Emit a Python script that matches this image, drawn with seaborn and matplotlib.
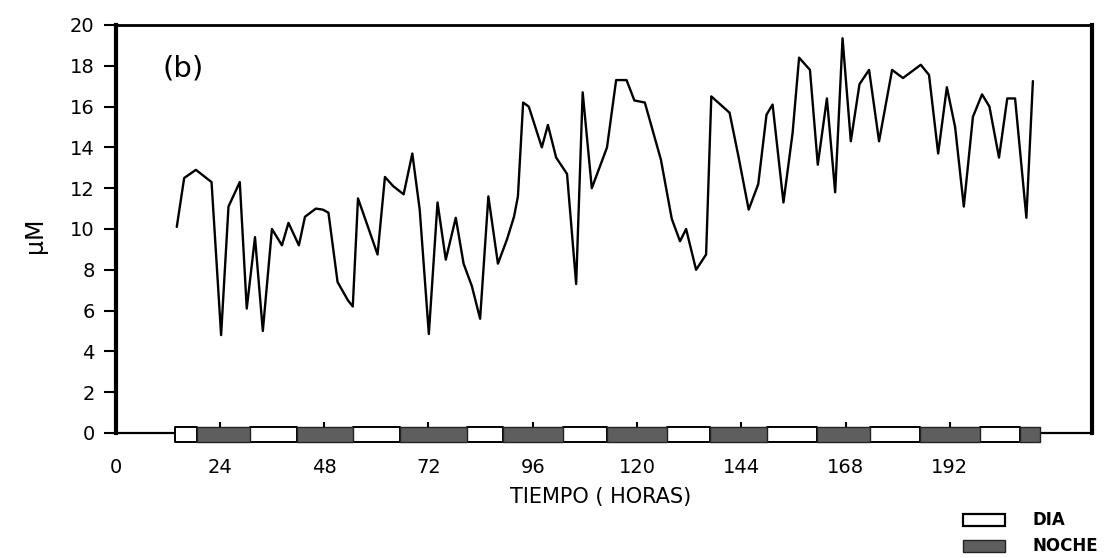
import numpy as np
import pandas as pd
import matplotlib
matplotlib.use("Agg")
import matplotlib.pyplot as plt
import seaborn as sns
from matplotlib.patches import Rectangle

# ---- data ----
hours = [14.1, 15.8, 18.5, 22.1, 24.3, 26.0, 28.6, 30.2, 32.1, 33.9, 36.0, 38.3,
         39.8, 42.2, 43.6, 46.1, 47.7, 49.0, 51.1, 53.5, 54.6, 55.8, 58.1, 60.3,
         62.0, 63.9, 66.3, 68.3, 70.0, 72.1, 74.1, 76.0, 78.3, 80.1, 82.0, 83.9,
         85.8, 88.0, 90.1, 91.7, 92.6, 93.8, 95.1, 98.1, 99.5, 101.4, 103.9, 106.0,
         107.5, 109.6, 113.1, 115.2, 117.6, 119.4, 121.8, 125.5, 128.0, 129.9, 131.3,
         133.6, 135.9, 137.1, 141.3, 143.4, 145.7, 147.9, 149.8, 151.2, 153.7, 155.8,
         157.3, 159.8, 161.6, 163.7, 165.6, 167.3, 169.2, 171.2, 173.4, 175.7, 178.7,
         181.2, 185.3, 187.2, 189.3, 191.3, 193.2, 195.2, 197.3, 199.4, 201.1, 203.3,
         205.2, 207.0, 209.6, 211.1]
conc = [10.1, 12.5, 12.9, 12.3, 4.8, 11.1, 12.3, 6.1, 9.6, 5.0, 10.0, 9.2,
        10.3, 9.2, 10.6, 11.0, 10.95, 10.8, 7.4, 6.5, 6.2, 11.5, 10.1, 8.75,
        12.55, 12.1, 11.7, 13.7, 10.95, 4.85, 11.3, 8.5, 10.55, 8.3, 7.2, 5.6,
        11.6, 8.3, 9.5, 10.6, 11.6, 16.2, 16.0, 14.0, 15.1, 13.5, 12.7, 7.3,
        16.7, 12.0, 14.0, 17.3, 17.3, 16.3, 16.2, 13.4, 10.5, 9.4, 10.0,
        8.0, 8.75, 16.5, 15.7, 13.5, 10.95, 12.2, 15.6, 16.1, 11.3, 14.7,
        18.4, 17.8, 13.15, 16.4, 11.8, 19.35, 14.3, 17.1, 17.8, 14.3, 17.8,
        17.4, 18.05, 17.55, 13.7, 16.95, 15.0, 11.1, 15.5, 16.6, 16.0, 13.5,
        16.4, 16.4, 10.55, 17.25]

x_ticks = [0, 24, 48, 72, 96, 120, 144, 168, 192]
y_ticks = [0, 2, 4, 6, 8, 10, 12, 14, 16, 18, 20]

day_start = [13.7, 31.0, 54.6, 80.9, 103.0, 126.9, 149.9, 173.6, 198.9]
day_end = [18.8, 41.8, 65.5, 89.2, 113.1, 136.8, 161.4, 185.1, 208.1]
night_start = [18.8, 41.8, 65.5, 89.2, 113.1, 136.8, 161.4, 185.1, 208.1]
night_end = [31.0, 54.6, 80.9, 103.0, 126.9, 149.9, 173.6, 198.9, 212.7]

x_label = "TIEMPO ( HORAS)"
y_label = "μM"
panel_label = "(b)"
legend_labels = ["DIA", "NOCHE"]

# ---- figure ----
sns.set_style("ticks")
plt.rcParams["font.family"] = ["DejaVu Sans"]
plt.rcParams["text.color"] = "black"
plt.rcParams["axes.labelcolor"] = "black"
plt.rcParams["xtick.color"] = "black"
plt.rcParams["ytick.color"] = "black"

W, H = 1106, 558
fig = plt.figure(figsize=(W / 100, H / 100), dpi=100)
ax = fig.add_axes([115.5 / W, 1 - 433 / H, 976.5 / W, 408 / H])

df = pd.DataFrame({"hours": hours, "conc": conc})
sns.lineplot(data=df, x="hours", y="conc", ax=ax, color="black", linewidth=1.7)

NIGHT_COLOR = "#5e5e5e"
ax.broken_barh([(s, e - s) for s, e in zip(day_start, day_end)], (-0.45, 0.72),
               facecolors="white", edgecolors="black", linewidth=1.4,
               clip_on=False, zorder=4)
ax.broken_barh([(s, e - s) for s, e in zip(night_start, night_end)], (-0.45, 0.72),
               facecolors=NIGHT_COLOR, edgecolors="#222222", linewidth=1.0,
               clip_on=False, zorder=4)

ax.set_xlim(0, 224.7)
ax.set_ylim(0, 20)
ax.set_xticks(x_ticks)
ax.set_yticks(y_ticks)
ax.tick_params(axis="x", direction="in", length=8, width=1.5, pad=18,
               labelsize=14, colors="black")
ax.tick_params(axis="y", direction="out", length=9, width=1.5, pad=6,
               labelsize=14, colors="black")

for side, lw in [("left", 3.0), ("right", 3.0), ("top", 2.0), ("bottom", 1.6)]:
    ax.spines[side].set_visible(True)
    ax.spines[side].set_linewidth(lw)
    ax.spines[side].set_color("black")

ax.set_xlabel(x_label, fontsize=15, color="black")
ax.set_ylabel(y_label, fontsize=17, rotation=90, color="black")
ax.yaxis.set_label_coords((47 - 115.5) / 976.5, (433 - 235) / 408)
ax.xaxis.set_label_coords(0.497, (433 - 487) / 408)

ax.text((183 - 115.5) / 976.5, (433 - 68) / 408, panel_label, transform=ax.transAxes,
        fontsize=21, ha="center", va="center", color="black")

# legend (figure coordinates)
def fig_rect(x0, y0, x1, y1, **kw):
    fig.add_artist(Rectangle((x0 / W, 1 - y1 / H), (x1 - x0) / W, (y1 - y0) / H,
                             transform=fig.transFigure, **kw))

fig_rect(963, 514, 1005, 526, facecolor="white", edgecolor="black", linewidth=1.6)
fig_rect(963, 540, 1005, 552, facecolor=NIGHT_COLOR, edgecolor="#222222", linewidth=1.0)
fig.text(1033 / W, 1 - 520 / H, legend_labels[0], fontsize=12, fontweight="bold",
         ha="left", va="center", color="black")
fig.text(1033 / W, 1 - 546 / H, legend_labels[1], fontsize=12, fontweight="bold",
         ha="left", va="center", color="black")

fig.savefig("out.png", dpi=100, facecolor="white")
